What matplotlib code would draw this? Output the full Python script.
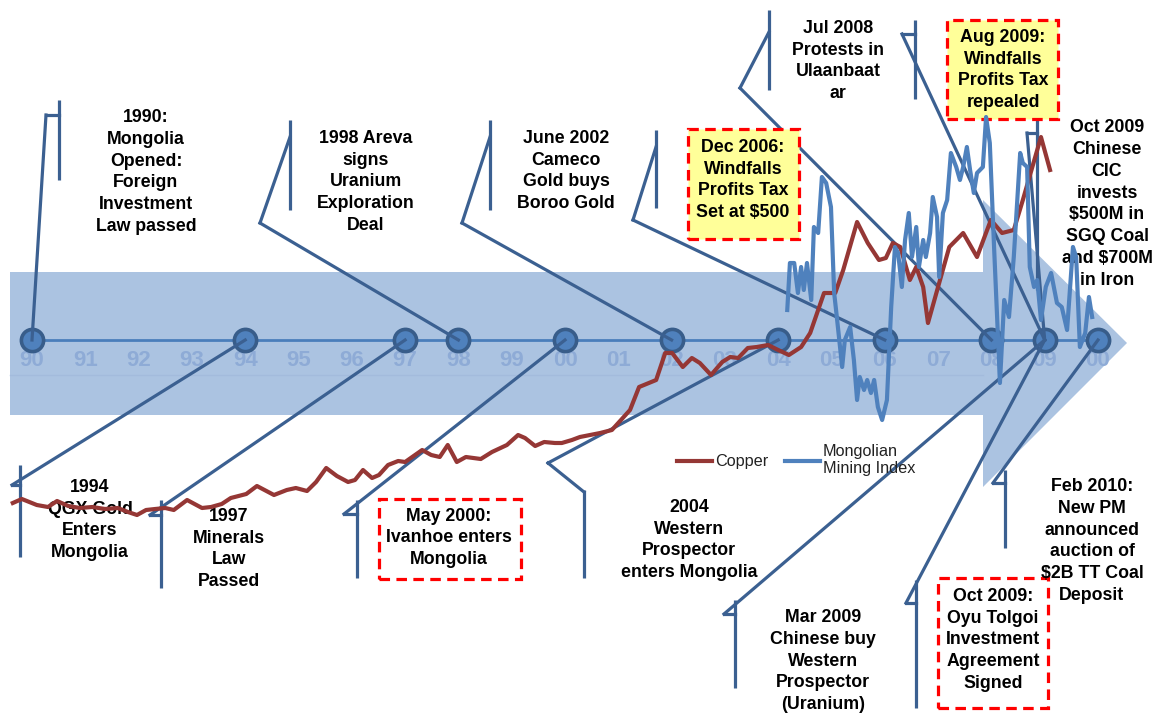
import numpy as np
import matplotlib.pyplot as plt
from matplotlib.patches import Polygon, Rectangle

plt.rcParams['font.family'] = ['Liberation Sans', 'DejaVu Sans']

# %%
### Dati

anni_tick = list(range(1990, 2011))
etichette_tick = ['90', '91', '92', '93', '94', '95', '96', '97', '98', '99',
                  '00', '01', '02', '03', '04', '05', '06', '07', '08', '09', '00']

anni_eventi = [1990, 1994, 1997, 1998, 2000, 2002, 2004, 2006, 2008, 2009, 2010]

# Copper (indice relativo)
rame_anni = [1989.64, 1989.81, 1990.09, 1990.30, 1990.47, 1990.68, 1990.90, 1991.13, 1991.37, 1991.61,
             1991.80, 1991.97, 1992.14, 1992.31, 1992.50, 1992.66, 1992.91, 1993.19, 1993.36, 1993.56,
             1993.73, 1994.02, 1994.22, 1994.54, 1994.78, 1994.95, 1995.16, 1995.33, 1995.52, 1995.72,
             1995.93, 1996.06, 1996.21, 1996.38, 1996.51, 1996.68, 1996.87, 1997.00, 1997.32, 1997.49,
             1997.65, 1997.80, 1997.97, 1998.14, 1998.42, 1998.63, 1998.91, 1999.12, 1999.25, 1999.44,
             1999.61, 1999.81, 1999.94, 2000.13, 2000.28, 2000.66, 2000.88, 2001.22, 2001.39, 2001.71,
             2001.88, 2002.01, 2002.21, 2002.38, 2002.53, 2002.74, 2002.95, 2003.10, 2003.25, 2003.43,
             2003.60, 2003.81, 2004.00, 2004.20, 2004.43, 2004.60, 2004.86, 2005.07, 2005.22, 2005.48,
             2005.68, 2005.89, 2006.02, 2006.15, 2006.29, 2006.47, 2006.59, 2006.72, 2006.81, 2007.02,
             2007.21, 2007.47, 2007.73, 2007.99, 2008.20, 2008.42, 2008.59, 2008.93, 2009.10]
rame_valori = [212, 216, 210, 208, 214, 209, 207, 208, 206, 207,
               203, 200, 205, 206, 207, 205, 215, 207, 208, 211,
               217, 221, 229, 220, 225, 227, 224, 233, 247, 239,
               233, 235, 245, 237, 240, 250, 254, 253, 265, 260,
               258, 270, 253, 258, 256, 263, 270, 280, 277, 269,
               273, 272, 272, 275, 278, 282, 285, 305, 328, 335,
               362, 362, 348, 357, 352, 340, 353, 358, 357, 367,
               368, 370, 365, 360, 368, 382, 422, 422, 445, 493,
               472, 455, 457, 472, 468, 435, 448, 428, 392, 432,
               468, 482, 458, 495, 482, 485, 515, 578, 545]

# Mongolian Mining Index (indice relativo)
indice_anni = [2004.17, 2004.22, 2004.30, 2004.37, 2004.43, 2004.48, 2004.54, 2004.62, 2004.67, 2004.75,
               2004.82, 2004.90, 2004.99, 2005.05, 2005.10, 2005.20, 2005.25, 2005.35, 2005.42, 2005.48,
               2005.53, 2005.61, 2005.67, 2005.74, 2005.80, 2005.87, 2005.95, 2006.04, 2006.12, 2006.19,
               2006.25, 2006.32, 2006.38, 2006.45, 2006.51, 2006.59, 2006.64, 2006.72, 2006.77, 2006.85,
               2006.90, 2006.98, 2007.02, 2007.09, 2007.17, 2007.24, 2007.34, 2007.41, 2007.47, 2007.54,
               2007.60, 2007.67, 2007.73, 2007.84, 2007.90, 2007.97, 2008.05, 2008.12, 2008.16, 2008.24,
               2008.33, 2008.42, 2008.54, 2008.59, 2008.67, 2008.72, 2008.80, 2008.86, 2008.93, 2009.02,
               2009.12, 2009.23, 2009.32, 2009.42, 2009.53, 2009.59, 2009.66, 2009.76, 2009.83, 2009.89]
indice_valori = [405, 452, 452, 422, 448, 425, 452, 415, 488, 482,
                 538, 532, 508, 422, 398, 348, 375, 388, 355, 315,
                 338, 325, 335, 322, 335, 308, 295, 315, 408, 468,
                 462, 428, 475, 502, 458, 488, 448, 475, 458, 482,
                 518, 498, 438, 502, 515, 562, 548, 535, 548, 568,
                 545, 522, 542, 548, 598, 572, 468, 382, 332, 415,
                 398, 458, 562, 552, 548, 448, 428, 435, 395, 428,
                 442, 412, 408, 385, 468, 458, 368, 382, 418, 398]

testi = [
    '1990:\nMongolia\nOpened:\nForeign\nInvestment\nLaw passed',
    '1998 Areva\nsigns\nUranium\nExploration\nDeal',
    'June 2002\nCameco\nGold buys\nBoroo Gold',
    'Dec 2006:\nWindfalls\nProfits Tax\nSet at $500',
    'Jul 2008\nProtests in\nUlaanbaat\nar',
    'Aug 2009:\nWindfalls\nProfits Tax\nrepealed',
    'Oct 2009\nChinese\nCIC\ninvests\n$500M in\nSGQ Coal\nand $700M\nin Iron',
    '1994\nQGX Gold\nEnters\nMongolia',
    '1997\nMinerals\nLaw\nPassed',
    'May 2000:\nIvanhoe enters\nMongolia',
    '2004\nWestern\nProspector\nenters Mongolia',
    'Mar 2009\nChinese buy\nWestern\nProspector\n(Uranium)',
    'Oct 2009:\nOyu Tolgoi\nInvestment\nAgreement\nSigned',
    'Feb 2010:\nNew PM\nannounced\nauction of\n$2B TT Coal\nDeposit',
]
anni_testi = [1990, 1998, 2002, 2006, 2008, 2009, 2009, 1994, 1997, 2000, 2004, 2009, 2009, 2010]

# %%
### Layout (pixel della figura, origine in alto a sinistra)
# barra x, barra y0, barra y1, gomito x, gomito y, aggancio y, testo cx, testo cy, riquadro
layout = [
    (59, 100, 180, 46, 115, 115, 146, 172, None),
    (290, 120, 210, 260, 223, 137, 366, 182, None),
    (490, 120, 210, 462, 223, 137, 566, 171, None),
    (656, 130, 208, 633, 220, 147, 743, 180, ((688, 129, 799, 239), '#ffff99')),
    (769, 10, 90, 740, 88, 32, 838, 61, None),
    (915, 20, 99, 902, 34, 34, 1003, 70, ((947, 20, 1058, 119), '#ffff99')),
    (1037, 110, 290, 1027, 133, 133, 1107, 204, None),
    (20, 465, 557, 12, 485, 485, 90, 520, None),
    (161, 500, 588, 150, 515, 515, 229, 549, None),
    (357, 500, 578, 344, 514, 514, 449, 538, ((379, 499, 521, 579), 'white')),
    (584, 490, 578, 548, 463, 492, 689, 540, None),
    (735, 600, 688, 724, 614, 614, 823, 661, None),
    (916, 580, 708, 906, 603, 603, 993, 640, ((938, 578, 1048, 708), 'white')),
    (1005, 470, 548, 993, 483, 483, 1092, 541, None),
]

W, H = 1153, 715
px_anno = 53.3
X0 = 1990 - 32 / px_anno
X1 = X0 + W / px_anno
livello_tl = H - 340
livello_etichette = H - 360

col_leader = '#3b6091'
col_rame = '#953735'
col_indice = '#4f81bd'
col_banda = '#abc3e1'


def L(x, y):
    # da pixel (origine in alto) a coordinate dati
    return X0 + x / px_anno, H - y


fig = plt.figure(figsize=(W / 100, H / 100), dpi=100)
ax = fig.add_axes([0, 0, 1, 1])
ax.set_xlim(X0, X1)
ax.set_ylim(0, H)
ax.axis('off')

### Freccia di sfondo
freccia = [L(10, 272), L(983, 272), L(983, 200), L(1127, 343), L(983, 487), L(983, 415), L(10, 415)]
ax.add_patch(Polygon(freccia, closed=True, facecolor=col_banda, edgecolor='none', zorder=1))
xs, ys = zip(L(10, 375), L(983, 375))
ax.plot(xs, ys, color='#a3bbdc', lw=1.0, zorder=1.5)

### Etichette anni
for a, et in zip(anni_tick, etichette_tick):
    ax.text(a, livello_etichette, et, ha='center', va='center', fontsize=16,
            fontweight='bold', color='#8eabd6', zorder=2)

### Linea del tempo
ax.plot([anni_eventi[0], anni_eventi[-1]], [livello_tl, livello_tl], color='#4a7ebb', lw=2, zorder=2.5)
ax.plot(anni_eventi, [livello_tl] * len(anni_eventi), 'o', ms=16, mfc='#4f81bd', mec='#385d8a',
        mew=2.6, zorder=3)

### Callout
for testo, anno, lay in zip(testi, anni_testi, layout):
    bx, by0, by1, ex, ey, jy, cx, cy, box = lay
    xs, ys = zip(L(bx, by0), L(bx, by1))
    ax.plot(xs, ys, color=col_leader, lw=2.3, zorder=4, solid_capstyle='butt')
    xs, ys = zip(L(bx, jy), L(ex, ey))
    ax.plot(xs, ys, color=col_leader, lw=2.3, zorder=4)
    gx, gy = L(ex, ey)
    ax.plot([gx, anno], [gy, livello_tl], color=col_leader, lw=2.3, zorder=4)
    if box is not None:
        (x0, y0, x1, y1), fc = box
        ax0, ay0 = L(x0, y1)
        ax1, ay1 = L(x1, y0)
        ax.add_patch(Rectangle((ax0, ay0), ax1 - ax0, ay1 - ay0, facecolor=fc, edgecolor='#ff0000',
                               lw=2.3, ls=(0, (3.3, 2.0)), zorder=4.5))
    tx, ty = L(cx, cy)
    ax.text(tx, ty, testo, ha='center', va='center', multialignment='center', fontsize=12.8,
            fontweight='bold', color='black', linespacing=1.38, zorder=5)

### Serie
linea_rame, = ax.plot(rame_anni, rame_valori, color=col_rame, lw=3, zorder=6, solid_joinstyle='round')
linea_indice, = ax.plot(indice_anni, indice_valori, color=col_indice, lw=3, zorder=7,
                        solid_joinstyle='round')

leg = ax.legend([linea_rame, linea_indice], ['Copper', 'Mongolian\nMining Index'], ncol=2,
                frameon=False, loc='upper left', bbox_to_anchor=(677 / W, 1 - 444 / H),
                handlelength=2.15, handletextpad=0.2, columnspacing=1.0,
                prop={'family': 'Liberation Sans', 'size': 11.7}, borderaxespad=0, borderpad=0)
leg.set_zorder(8)
for t in leg.get_texts():
    t.set_color('#222222')

plt.savefig('out.png', dpi=100)
plt.close()
